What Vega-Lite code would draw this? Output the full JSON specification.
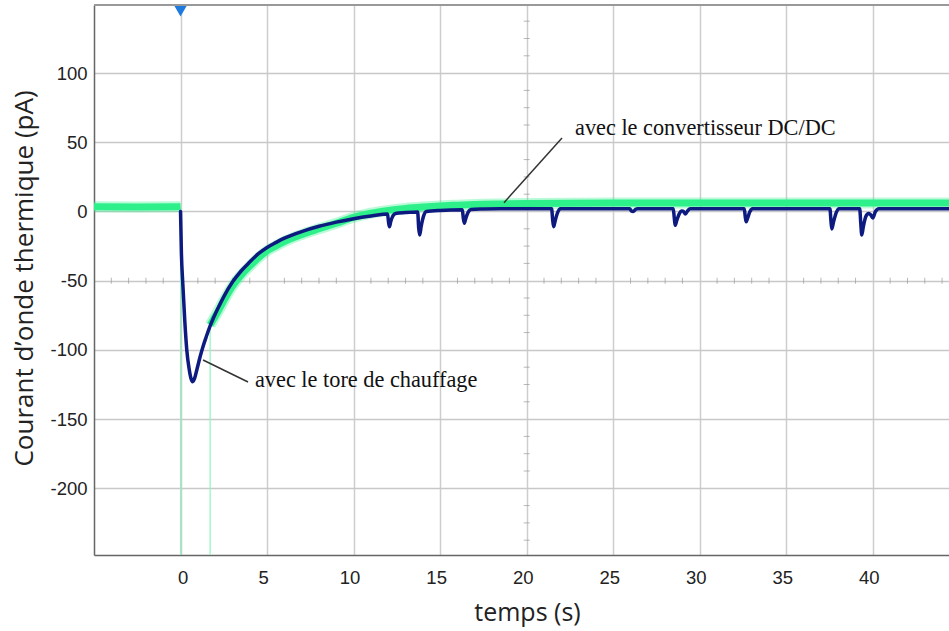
{
  "$schema": "https://vega.github.io/schema/vega-lite/v6.json",
  "autosize": {"type": "none"},
  "padding": {"left": 94, "top": 5, "right": 0, "bottom": 76},
  "width": 855,
  "height": 550,
  "background": "white",
  "config": {"view": {"stroke": null}},
  "datasets": {
    "blue": [
      {"t": 0, "v": 0}, {"t": 0.05, "v": -30}, {"t": 0.13, "v": -52}, {"t": 0.25, "v": -80}, {"t": 0.36, "v": -100},
      {"t": 0.5, "v": -114}, {"t": 0.6, "v": -120.5}, {"t": 0.7, "v": -123}, {"t": 0.8, "v": -121}, {"t": 0.95, "v": -114},
      {"t": 1.13, "v": -105}, {"t": 1.3, "v": -97.5}, {"t": 1.5, "v": -90}, {"t": 1.7, "v": -83}, {"t": 1.9, "v": -77},
      {"t": 2.2, "v": -69}, {"t": 2.5, "v": -61.5}, {"t": 3, "v": -51}, {"t": 3.5, "v": -43}, {"t": 4, "v": -36.5},
      {"t": 4.5, "v": -30.5}, {"t": 5, "v": -26}, {"t": 5.5, "v": -22.5}, {"t": 6, "v": -19.3}, {"t": 7, "v": -14.5},
      {"t": 8, "v": -10.7}, {"t": 9, "v": -7.7}, {"t": 10, "v": -5.2}, {"t": 11, "v": -3.2}, {"t": 11.6, "v": -2.2},
      {"t": 11.96, "v": -1.8}, {"t": 12.02, "v": -8}, {"t": 12.07, "v": -11}, {"t": 12.15, "v": -7}, {"t": 12.28, "v": -3}, {"t": 12.42, "v": -1.4},
      {"t": 13.0, "v": -0.8},
      {"t": 13.7, "v": -0.4}, {"t": 13.76, "v": -12}, {"t": 13.82, "v": -17}, {"t": 13.9, "v": -11}, {"t": 14.05, "v": -3}, {"t": 14.2, "v": 0},
      {"t": 15, "v": 0.8},
      {"t": 16.28, "v": 1.2}, {"t": 16.34, "v": -5}, {"t": 16.4, "v": -8.5}, {"t": 16.48, "v": -5}, {"t": 16.62, "v": -0.5}, {"t": 16.78, "v": 1.4},
      {"t": 17.5, "v": 1.8}, {"t": 18.5, "v": 2},
      {"t": 21.44, "v": 2}, {"t": 21.5, "v": -6}, {"t": 21.56, "v": -11}, {"t": 21.64, "v": -7}, {"t": 21.78, "v": -1}, {"t": 21.95, "v": 2},
      {"t": 25.95, "v": 2}, {"t": 26.05, "v": 0.4}, {"t": 26.15, "v": 0}, {"t": 26.3, "v": 1.6}, {"t": 26.4, "v": 2},
      {"t": 28.47, "v": 2}, {"t": 28.53, "v": -5}, {"t": 28.58, "v": -10}, {"t": 28.67, "v": -6.5}, {"t": 28.82, "v": -1.5}, {"t": 28.95, "v": 0.3},
      {"t": 29.05, "v": 0.2}, {"t": 29.17, "v": -1.8}, {"t": 29.3, "v": 0.5}, {"t": 29.45, "v": 2},
      {"t": 32.57, "v": 2}, {"t": 32.63, "v": -4}, {"t": 32.68, "v": -7.5}, {"t": 32.76, "v": -5}, {"t": 32.9, "v": 0}, {"t": 33.05, "v": 2},
      {"t": 37.52, "v": 2}, {"t": 37.58, "v": -7}, {"t": 37.63, "v": -12.6}, {"t": 37.72, "v": -8}, {"t": 37.88, "v": -1}, {"t": 38.05, "v": 2},
      {"t": 39.24, "v": 2}, {"t": 39.3, "v": -8}, {"t": 39.36, "v": -17}, {"t": 39.45, "v": -11}, {"t": 39.6, "v": -3.5}, {"t": 39.75, "v": -1.5},
      {"t": 39.85, "v": -2}, {"t": 40.0, "v": -4.7}, {"t": 40.15, "v": 0}, {"t": 40.35, "v": 2},
      {"t": 44.4, "v": 2}
    ],
    "green": [
      {"t": -5.0, "v": 3.4, "seg": "a"}, {"t": -2.5, "v": 3.2, "seg": "a"}, {"t": 0, "v": 3.4, "seg": "a"},
      {"t": 1.71, "v": -82, "seg": "b"}, {"t": 1.9, "v": -78, "seg": "b"}, {"t": 2.2, "v": -71.5, "seg": "b"}, {"t": 2.5, "v": -64.5, "seg": "b"},
      {"t": 3, "v": -54, "seg": "b"}, {"t": 3.5, "v": -46, "seg": "b"}, {"t": 4, "v": -39.5, "seg": "b"}, {"t": 4.5, "v": -33.5, "seg": "b"},
      {"t": 5, "v": -28.5, "seg": "b"}, {"t": 5.5, "v": -25, "seg": "b"}, {"t": 6, "v": -21.7, "seg": "b"}, {"t": 7, "v": -16.7, "seg": "b"},
      {"t": 8, "v": -12.5, "seg": "b"}, {"t": 9, "v": -8.5, "seg": "b"}, {"t": 10, "v": -4.2, "seg": "b"}, {"t": 11, "v": -1.2, "seg": "b"},
      {"t": 12, "v": 0.8, "seg": "b"}, {"t": 13, "v": 2.2, "seg": "b"}, {"t": 14, "v": 3.2, "seg": "b"}, {"t": 15, "v": 4, "seg": "b"},
      {"t": 16, "v": 4.6, "seg": "b"}, {"t": 17, "v": 5.1, "seg": "b"}, {"t": 18.5, "v": 5.5, "seg": "b"}, {"t": 20, "v": 5.8, "seg": "b"},
      {"t": 25, "v": 6.1, "seg": "b"}, {"t": 30, "v": 6.2, "seg": "b"}, {"t": 44.4, "v": 6.2, "seg": "b"}
    ],
    "jumps": [
      {"t": 0, "v": 3.4, "v2": -260},
      {"t": 1.71, "v": -260, "v2": -82}
    ],
    "notes": [
      {"t": 4.3, "v": -121.7, "label": "avec le tore de chauffage"},
      {"t": 22.79, "v": 60.3, "label": "avec le convertisseur DC/DC"}
    ],
    "leaders": [
      {"t": 1.3, "v": -107.3, "t2": 3.9, "v2": -123.2},
      {"t": 22.04, "v": 53.1, "t2": 18.69, "v2": 6.4}
    ],
    "minx": [
      {"t": -4, "v": -50}, {"t": -3, "v": -50}, {"t": -2, "v": -50}, {"t": -1, "v": -50}, {"t": 1, "v": -50}, {"t": 2, "v": -50},
      {"t": 3, "v": -50}, {"t": 4, "v": -50}, {"t": 6, "v": -50}, {"t": 7, "v": -50}, {"t": 8, "v": -50}, {"t": 9, "v": -50},
      {"t": 11, "v": -50}, {"t": 12, "v": -50}, {"t": 13, "v": -50}, {"t": 14, "v": -50}, {"t": 16, "v": -50}, {"t": 17, "v": -50},
      {"t": 18, "v": -50}, {"t": 19, "v": -50}, {"t": 21, "v": -50}, {"t": 22, "v": -50}, {"t": 23, "v": -50}, {"t": 24, "v": -50},
      {"t": 26, "v": -50}, {"t": 27, "v": -50}, {"t": 28, "v": -50}, {"t": 29, "v": -50}, {"t": 31, "v": -50}, {"t": 32, "v": -50},
      {"t": 33, "v": -50}, {"t": 34, "v": -50}, {"t": 36, "v": -50}, {"t": 37, "v": -50}, {"t": 38, "v": -50}, {"t": 39, "v": -50},
      {"t": 41, "v": -50}, {"t": 42, "v": -50}, {"t": 43, "v": -50}, {"t": 44, "v": -50}
    ],
    "miny": [
      {"t": 20, "v": -237.5}, {"t": 20, "v": -225}, {"t": 20, "v": -212.5}, {"t": 20, "v": -187.5}, {"t": 20, "v": -175}, {"t": 20, "v": -162.5},
      {"t": 20, "v": -137.5}, {"t": 20, "v": -125}, {"t": 20, "v": -112.5}, {"t": 20, "v": -87.5}, {"t": 20, "v": -75}, {"t": 20, "v": -62.5},
      {"t": 20, "v": -37.5}, {"t": 20, "v": -25}, {"t": 20, "v": -12.5}, {"t": 20, "v": 12.5}, {"t": 20, "v": 25}, {"t": 20, "v": 37.5},
      {"t": 20, "v": 62.5}, {"t": 20, "v": 75}, {"t": 20, "v": 87.5}, {"t": 20, "v": 112.5}, {"t": 20, "v": 125}, {"t": 20, "v": 137.5}
    ],
    "marker": [{"t": 0, "v": 145.5}],
    "frame": [{"v": 149.2}]
  },
  "layer": [
    {
      "data": {"name": "minx"},
      "mark": {"type": "tick", "orient": "vertical", "size": 6, "thickness": 1, "color": "#9a9a9a"},
      "encoding": {
        "x": {"field": "t", "type": "quantitative", "scale": {"domain": [-5.0, 44.4], "nice": false, "zero": false},
          "axis": {"title": "temps (s)", "values": [0, 5, 10, 15, 20, 25, 30, 35, 40], "grid": true, "gridColor": "#cdcdcd", "gridWidth": 1.5,
            "domainColor": "#666666", "domainWidth": 1.5, "ticks": false, "tickSize": 0,
            "labelFont": "Liberation Sans", "labelFontSize": 18.5, "labelColor": "#222222", "labelPadding": 13,
            "labelOffset": {"condition": {"test": "datum.value == 0", "value": 2}, "value": -4},
            "titleFont": "Open Sans", "titleFontSize": 25, "titleFontWeight": "normal", "titleColor": "#222222",
            "titleX": 433, "titleY": 57, "titleBaseline": "middle", "titleAlign": "center"}},
        "y": {"field": "v", "type": "quantitative", "scale": {"domain": [-248.2, 149.2], "nice": false, "zero": false},
          "axis": {"title": "Courant d’onde thermique (pA)", "values": [-200, -150, -100, -50, 0, 50, 100], "grid": true, "gridColor": "#c8c8c8", "gridWidth": 1.5,
            "domainColor": "#666666", "domainWidth": 1.5, "ticks": false, "tickSize": 0,
            "labelFont": "Liberation Sans", "labelFontSize": 18.5, "labelColor": "#222222", "labelPadding": 7,
            "labelExpr": "datum.value < 0 ? '-' + format(-datum.value, 'd') : format(datum.value, 'd')",
            "titleFont": "Open Sans", "titleFontSize": 26, "titleFontWeight": "normal", "titleColor": "#222222",
            "titleAngle": -90, "titleX": -70, "titleY": 273, "titleBaseline": "middle", "titleAlign": "center"}}
      }
    },
    {
      "data": {"name": "miny"},
      "mark": {"type": "tick", "orient": "horizontal", "size": 6, "thickness": 1, "color": "#9a9a9a"},
      "encoding": {
        "x": {"field": "t", "type": "quantitative", "scale": {"domain": [-5.0, 44.4], "nice": false, "zero": false}},
        "y": {"field": "v", "type": "quantitative", "scale": {"domain": [-248.2, 149.2], "nice": false, "zero": false}}
      }
    },
    {
      "data": {"name": "jumps"},
      "mark": {"type": "rule", "color": "#8ff4c0", "strokeWidth": 1.2, "clip": true},
      "encoding": {
        "x": {"field": "t", "type": "quantitative", "scale": {"domain": [-5.0, 44.4], "nice": false, "zero": false}},
        "y": {"field": "v", "type": "quantitative", "scale": {"domain": [-248.2, 149.2], "nice": false, "zero": false}},
        "y2": {"field": "v2"}
      }
    },
    {
      "data": {"name": "green"},
      "mark": {"type": "line", "color": "#3af08e", "strokeWidth": 11, "opacity": 0.35, "clip": true, "strokeJoin": "round", "strokeCap": "butt", "interpolate": "monotone"},
      "encoding": {
        "x": {"field": "t", "type": "quantitative", "scale": {"domain": [-5.0, 44.4], "nice": false, "zero": false}},
        "y": {"field": "v", "type": "quantitative", "scale": {"domain": [-248.2, 149.2], "nice": false, "zero": false}},
        "detail": {"field": "seg"}
      }
    },
    {
      "data": {"name": "green"},
      "mark": {"type": "line", "color": "#2ef08a", "strokeWidth": 7, "clip": true, "strokeJoin": "round", "strokeCap": "butt", "interpolate": "monotone"},
      "encoding": {
        "x": {"field": "t", "type": "quantitative", "scale": {"domain": [-5.0, 44.4], "nice": false, "zero": false}},
        "y": {"field": "v", "type": "quantitative", "scale": {"domain": [-248.2, 149.2], "nice": false, "zero": false}},
        "detail": {"field": "seg"}
      }
    },
    {
      "data": {"name": "blue"},
      "mark": {"type": "line", "color": "#0d1a80", "strokeWidth": 3.5, "clip": true, "strokeJoin": "round", "strokeCap": "round", "interpolate": "monotone"},
      "encoding": {
        "x": {"field": "t", "type": "quantitative", "scale": {"domain": [-5.0, 44.4], "nice": false, "zero": false}},
        "y": {"field": "v", "type": "quantitative", "scale": {"domain": [-248.2, 149.2], "nice": false, "zero": false}}
      }
    },
    {
      "data": {"name": "leaders"},
      "mark": {"type": "rule", "color": "#333333", "strokeWidth": 1.5},
      "encoding": {
        "x": {"field": "t", "type": "quantitative", "scale": {"domain": [-5.0, 44.4], "nice": false, "zero": false}},
        "y": {"field": "v", "type": "quantitative", "scale": {"domain": [-248.2, 149.2], "nice": false, "zero": false}},
        "x2": {"field": "t2"},
        "y2": {"field": "v2"}
      }
    },
    {
      "data": {"name": "notes"},
      "mark": {"type": "text", "font": "Liberation Serif", "fontSize": 22.3, "color": "#111111", "align": "left", "baseline": "middle"},
      "encoding": {
        "x": {"field": "t", "type": "quantitative", "scale": {"domain": [-5.0, 44.4], "nice": false, "zero": false}},
        "y": {"field": "v", "type": "quantitative", "scale": {"domain": [-248.2, 149.2], "nice": false, "zero": false}},
        "text": {"field": "label"}
      }
    },
    {
      "data": {"name": "marker"},
      "mark": {"type": "point", "shape": "triangle-down", "filled": true, "size": 220, "color": "#1f7ae0", "opacity": 1, "clip": true},
      "encoding": {
        "x": {"field": "t", "type": "quantitative", "scale": {"domain": [-5.0, 44.4], "nice": false, "zero": false}},
        "y": {"field": "v", "type": "quantitative", "scale": {"domain": [-248.2, 149.2], "nice": false, "zero": false}}
      }
    },
    {
      "data": {"name": "frame"},
      "mark": {"type": "rule", "color": "#999999", "strokeWidth": 2},
      "encoding": {
        "y": {"field": "v", "type": "quantitative", "scale": {"domain": [-248.2, 149.2], "nice": false, "zero": false}}
      }
    }
  ]
}
